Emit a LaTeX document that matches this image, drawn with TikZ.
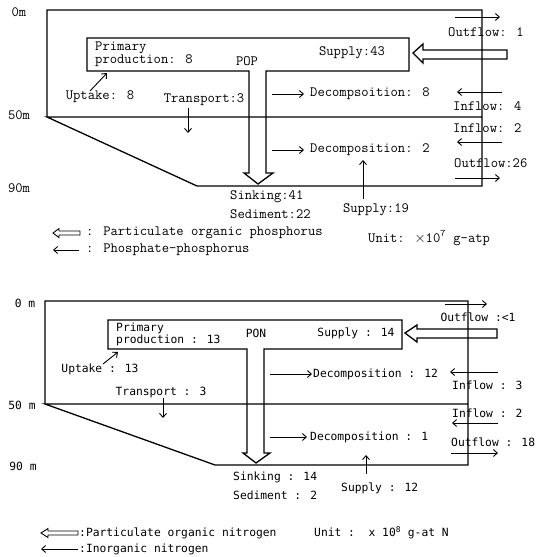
\documentclass[tikz,border=0pt]{standalone}
\usepackage{fontspec}
\usepackage{tikz}
\usetikzlibrary{arrows.meta}
\newfontfamily\dotmx{DejaVu Sans Mono}

\begin{document}
\begin{tikzpicture}[x=1pt,y=-1pt,
  wall/.style={line width=1.3pt,line join=miter},
  flow/.style={line width=0.9pt,-{Straight Barb[length=4pt,width=7pt]}},
  txtP/.style={font=\ttfamily\fontsize{14.2}{12}\selectfont,inner sep=0pt},
  txtN/.style={font=\dotmx\fontsize{11.3}{12}\selectfont,inner sep=0pt},
  lft/.style={anchor=west}]
\useasboundingbox (0,0) rectangle (542,557);

% ---- phosphorus (top) ----
\draw[wall] (47,117) -- (47,10) -- (482,10) -- (482,186) -- (197,186) -- (47,117) -- (482,117);
\draw[wall] (249,71) -- (87,71) -- (87,38) -- (409,38) -- (409,71) -- (266,71) -- (266,173)
  -- (273,173) -- (258,184) -- (244,173) -- (249,173) -- cycle;
\draw[wall] (413,53) -- (423,44) -- (423,50) -- (507,50) -- (507,59) -- (423,59) -- (423,63) -- cycle;

\node[txtP] (p0) at (19,12) {0m};
\node[txtP] (p50) at (19,115) {50m};
\node[txtP] (p90) at (19,188) {90m};
\node[txtP,lft,align=left] (pprim) at (95,54) {Primary\\production: 8};
\node[txtP] (pop) at (247,61) {POP};
\node[txtP] (psup) at (352,53) {Supply:43};
\node[txtP] (pupt) at (100,97) {Uptake: 8};
\node[txtP] (ptra) at (204,100) {Transport:3};
\node[txtP,lft] (pdec1) at (310,94) {Decompsoition: 8};
\node[txtP,lft] (pdec2) at (310,150) {Decomposition: 2};
\node[txtP] (pout1) at (486,32) {Outflow: 1};
\node[txtP,lft] (pin1) at (453,106) {Inflow: 4};
\node[txtP,lft] (pin2) at (453,128) {Inflow: 2};
\node[txtP,lft] (pout2) at (454,163) {Outflow:26};
\node[txtP,lft] (psink) at (230,197) {Sinking:41};
\node[txtP,lft] (psed) at (230,214) {Sediment:22};
\node[txtP] (psup2) at (376,210) {Supply:19};
\node[txtP,lft] (pleg1) at (86,233) {: Particulate organic phosphorus};
\node[txtP,lft] (pleg2) at (86,250) {: Phosphate-phosphorus};
\node[txtP,lft] (punit) at (368,238) {Unit: $\times$10\textsuperscript{7} g-atp};

\coordinate (pa1) at (90,91);   \coordinate (pb1) at (107,73);
\coordinate (pa2) at (188,108); \coordinate (pb2) at (188,133);
\coordinate (pa3) at (272,94);  \coordinate (pb3) at (304,94);
\coordinate (pa4) at (272,150); \coordinate (pb4) at (304,150);
\coordinate (pa5) at (455,17);  \coordinate (pb5) at (500,17);
\coordinate (pa6) at (502,92);  \coordinate (pb6) at (457,92);
\coordinate (pa7) at (502,142); \coordinate (pb7) at (457,142);
\coordinate (pa8) at (455,178); \coordinate (pb8) at (500,178);
\coordinate (pa9) at (363,199); \coordinate (pb9) at (363,160);
\coordinate (pa10) at (79,250); \coordinate (pb10) at (53,250);
\foreach \i in {1,...,10} \draw[flow] (pa\i) -- (pb\i);
\draw[line width=0.9pt] (53,233) -- (59,228.5) -- (59,231) -- (80,231) -- (80,235) -- (59,235) -- (59,237.5) -- cycle;

% ---- nitrogen (bottom) ----
\draw[wall] (45,404) -- (45,301) -- (468,301) -- (468,465) -- (215,465) -- (45,404) -- (468,404);
\draw[wall] (247,349) -- (108,349) -- (108,320) -- (402,320) -- (402,349) -- (264,349) -- (264,453)
  -- (270,453) -- (256,463) -- (243,453) -- (247,453) -- cycle;
\draw[wall] (405,333) -- (417,325) -- (417,329) -- (497,329) -- (497,338) -- (417,338) -- (417,342) -- cycle;

\node[txtN] (n0) at (25,303) {0 m};
\node[txtN] (n50) at (22,405) {50 m};
\node[txtN] (n90) at (23,466) {90 m};
\node[txtN,lft,align=left] (nprim) at (116,334) {Primary\\production : 13};
\node[txtN] (pon) at (256,333) {PON};
\node[txtN] (nsup) at (356,333) {Supply : 14};
\node[txtN] (nupt) at (100,369) {Uptake : 13};
\node[txtN] (ntra) at (161,392) {Transport : 3};
\node[txtN,lft] (ndec1) at (313,374) {Decomposition : 12};
\node[txtN,lft] (ndec2) at (310,437) {Decomposition : 1};
\node[txtN] (nout1) at (478,317) {Outflow :<1};
\node[txtN,lft] (nin1) at (452,385) {Inflow : 3};
\node[txtN,lft] (nin2) at (452,413) {Inflow : 2};
\node[txtN,lft] (nout2) at (451,442) {Outflow : 18};
\node[txtN,lft] (nsink) at (233,477) {Sinking : 14};
\node[txtN,lft] (nsed) at (233,495) {Sediment : 2};
\node[txtN,lft] (nsup2) at (341,488) {Supply : 12};
\node[txtN,lft] (nleg1) at (79,533) {:Particulate organic nitrogen};
\node[txtN,lft] (nleg2) at (79,549) {:Inorganic nitrogen};
\node[txtN,lft] (nunit) at (314,533) {Unit :\ \ x 10\textsuperscript{8} g-at N};

\coordinate (na1) at (103,364); \coordinate (nb1) at (118,352);
\coordinate (na2) at (163,398); \coordinate (nb2) at (163,418);
\coordinate (na3) at (270,374); \coordinate (nb3) at (312,374);
\coordinate (na4) at (270,437); \coordinate (nb4) at (307,437);
\coordinate (na5) at (445,304); \coordinate (nb5) at (487,304);
\coordinate (na6) at (498,372); \coordinate (nb6) at (450,372);
\coordinate (na7) at (498,423); \coordinate (nb7) at (452,423);
\coordinate (na8) at (451,453); \coordinate (nb8) at (498,453);
\coordinate (na9) at (366,474); \coordinate (nb9) at (366,455);
\coordinate (na10) at (78,549); \coordinate (nb10) at (41,549);
\foreach \i in {1,...,10} \draw[flow] (na\i) -- (nb\i);
\draw[line width=0.9pt] (41,533) -- (48,528.5) -- (48,531) -- (78,531) -- (78,535) -- (48,535) -- (48,537.5) -- cycle;

\end{tikzpicture}
\end{document}
